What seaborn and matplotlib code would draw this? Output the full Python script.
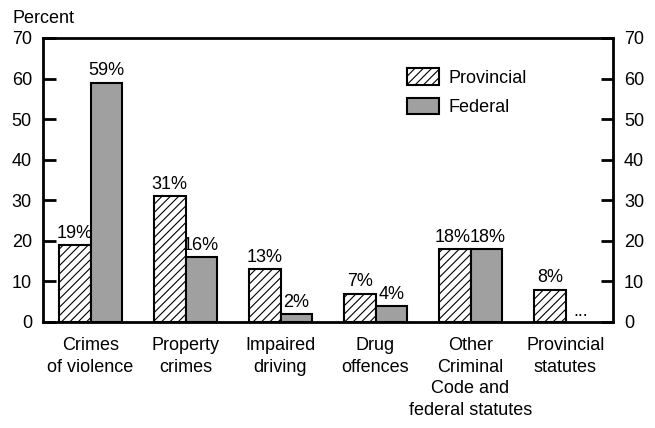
import numpy as np
import pandas as pd
import matplotlib
matplotlib.use("Agg")
import matplotlib.pyplot as plt
from matplotlib.patches import Patch
import seaborn as sns

categories = ["Crimes\nof violence", "Property\ncrimes", "Impaired\ndriving",
              "Drug\noffences", "Other\nCriminal\nCode and\nfederal statutes",
              "Provincial\nstatutes"]
provincial = [19, 31, 13, 7, 18, 8]
federal = [59, 16, 2, 4, 18, np.nan]   # not available for provincial statutes
series = ["Provincial", "Federal"]
yticks = [0, 10, 20, 30, 40, 50, 60, 70]

sns.set_theme(style="white")
plt.rcParams["font.family"] = ["Liberation Sans", "DejaVu Sans"]
plt.rcParams["hatch.linewidth"] = 0.8
plt.rcParams["text.color"] = "black"
plt.rcParams["xtick.color"] = "black"
plt.rcParams["ytick.color"] = "black"

FS = 13

df = pd.DataFrame({
    "category": categories * 2,
    "value": provincial + federal,
    "series": [series[0]] * len(categories) + [series[1]] * len(categories),
})

fig = plt.figure(figsize=(6.55, 4.28), dpi=100)
ax = fig.add_axes([43 / 655, 1 - 322 / 428, 570 / 655, 284 / 428])

width = 0.66
sns.barplot(data=df, x="category", y="value", hue="series", hue_order=series,
            palette=["white", "#a0a0a0"], width=width, edgecolor="black",
            linewidth=1.5, saturation=1, ax=ax, legend=False)

n = len(categories)
half = width / 2
# hatch the provincial (left-hand) bars
for p in ax.patches:
    c = p.get_x() + p.get_width() / 2
    if c < np.round(c):
        p.set_hatch("////")

# value labels; nudge apart where two equal bars sit side by side
for i, (vp, vf) in enumerate(zip(provincial, federal)):
    nudge = 0.02 if vp == vf else 0.0
    ax.text(i - half / 2 - nudge, vp + 0.8, f"{vp:.0f}%", ha="center",
            va="bottom", fontsize=FS)
    if np.isnan(vf):
        ax.text(i + half / 2, 0.6, "...", ha="center", va="bottom", fontsize=FS)
    else:
        ax.text(i + half / 2 + nudge, vf + 0.8, f"{vf:.0f}%", ha="center",
                va="bottom", fontsize=FS)

ax.set_xlim(-0.5, n - 0.5)
ax.set_ylim(0, 70)
ax.set_yticks(yticks)
ax.set_xlabel("")
ax.set_ylabel("")
for s in ax.spines.values():
    s.set_color("black")
    s.set_linewidth(2)
ax.tick_params(axis="y", direction="in", length=9, width=2, labelsize=FS,
               left=True, right=True, labelleft=True, labelright=True, pad=8)
ax.tick_params(axis="x", length=0, labelsize=FS, pad=11)
for lbl in ax.get_xticklabels():
    lbl.set_linespacing(1.35)

ax.text(-0.054, 1.04, "Percent", transform=ax.transAxes, fontsize=FS,
        ha="left", va="bottom")

handles = [Patch(facecolor="white", edgecolor="black", hatch="////", linewidth=1.5),
           Patch(facecolor="#a0a0a0", edgecolor="black", linewidth=1.5)]
ax.legend(handles, series, loc="upper left", bbox_to_anchor=(0.61, 0.95),
          frameon=False, fontsize=FS, handlelength=1.75, handleheight=1.0,
          labelspacing=0.6, handletextpad=0.55)

fig.savefig("out.png", dpi=100)
